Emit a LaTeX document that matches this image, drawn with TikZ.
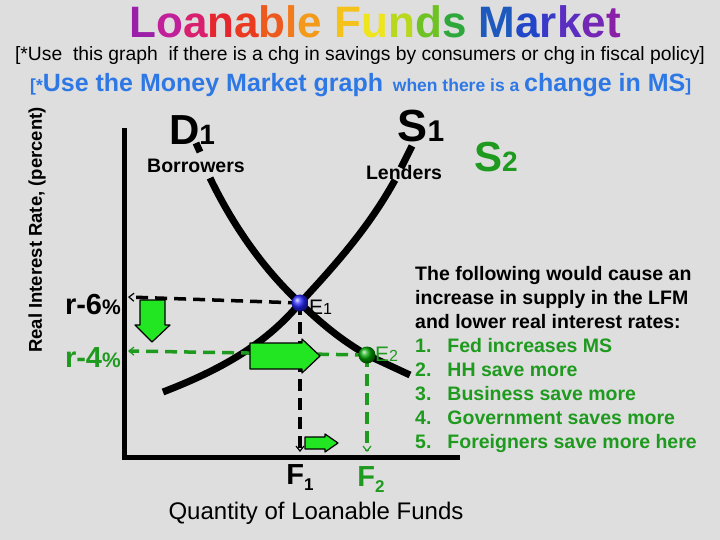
\documentclass[tikz,border=0pt]{standalone}
\usepackage{fontspec}
\setmainfont{Liberation Sans}
\usetikzlibrary{arrows.meta}
\definecolor{bg}{HTML}{DEDEDE}
\definecolor{gr}{HTML}{1E9A1E}
\definecolor{lg}{HTML}{22E622}
\definecolor{bl}{HTML}{2E78E6}
\newcommand{\cl}[2]{\textcolor[HTML]{#1}{#2}}
\begin{document}
\begin{tikzpicture}[x=1pt,y=-1pt,
  curve/.style={line width=7pt},
  axis/.style={line width=5pt},
  dashblack/.style={line width=3.5pt,dash pattern=on 12pt off 7pt,-{Straight Barb[length=5pt,width=8pt,line width=1.2pt]}},
  dashgreen/.style={dashblack,draw=gr},
  fatarrow/.style={draw=black,fill=lg,line width=1.2pt,line join=round},
  lbl/.style={inner sep=0pt}]
\fill[bg] (0,0) rectangle (720,540);
\useasboundingbox (0,0) rectangle (720,540);
% title
\node[inner sep=0pt,font=\fontsize{44}{46}\selectfont\bfseries] (title) at (375,22) {\cl{9B1FA8}{L}\cl{C21F9B}{o}\cl{D8206E}{a}\cl{E6262E}{n}\cl{EA3A20}{a}\cl{EC5A1E}{b}\cl{F07A1C}{l}\cl{F49A1A}{e}\ \cl{F4C21A}{F}\cl{EFE51C}{u}\cl{B8D81E}{n}\cl{6EC224}{d}\cl{2EA83A}{s}\ \cl{1E5ABE}{M}\cl{2246C8}{a}\cl{3A3AC8}{r}\cl{5A2EC0}{k}\cl{7426B4}{e}\cl{8A20A8}{t}};
\node[inner sep=0pt,font=\fontsize{19.3}{20}\selectfont] (sub1) at (360,56) {[*Use\ \ this graph\ \ if there is a chg in savings by consumers or chg in fiscal policy]};
\node[inner sep=0pt,text=bl,font=\bfseries\fontsize{17.5}{20}\selectfont,anchor=base west] (sub2) at (30,92) {[*{\fontsize{25}{26}\selectfont Use the Money Market graph} \ when there is a {\fontsize{25}{26}\selectfont change in MS}]};
% y label
\node[rotate=90,inner sep=0pt,font=\bfseries\fontsize{18.5}{20}\selectfont] (ylab) at (37,230) {Real Interest Rate, (percent)};
% axes
\coordinate (ytop) at (124,128);
\coordinate (orig) at (124,457);
\coordinate (xend) at (460,457);
\draw[axis] (ytop) -- (orig) -- (xend);
% curves
\coordinate (E1) at (300,303);
\coordinate (E2) at (367,355);
\draw[curve] (196,143) -- (200,152);
\draw[curve] (210,178) .. controls (240,240) and (275,280) .. (E1) .. controls (330,332) and (350,345) .. (E2) -- (410,375);
\draw[curve] (163,392) .. controls (220,370) and (265,345) .. (E1) .. controls (340,260) and (370,225) .. (395,180);
\draw[curve] (401,168) -- (412,146);
% dashed lines
\coordinate (y6) at (128,297);
\coordinate (y4) at (128,351);
\coordinate (f1) at (300,452);
\coordinate (f2) at (367,452);
\draw[dashblack] (E1) -- (y6);
\draw[dashblack] (E1) -- (f1);
\draw[dashgreen] (E2) -- (y4);
\draw[dashgreen] (E2) -- (f2);
% fat arrows
\draw[fatarrow] (140,300) -- (165,300) -- (165,325) -- (170,325) -- (152,342) -- (135,325) -- (140,325) -- cycle;
\draw[fatarrow] (250,343) -- (302,343) -- (302,339) -- (320,356) -- (302,373) -- (302,369) -- (250,369) -- cycle;
\draw[fatarrow] (305,437) -- (325,437) -- (325,434) -- (338,443) -- (325,452) -- (325,449) -- (305,449) -- cycle;
% points
\shade[ball color=blue!85] (E1) circle (8.5);
\shade[ball color=green!65!black] (E2) circle (8.5);
\node[inner sep=0pt,font=\fontsize{21}{22}\selectfont,anchor=west] (e1l) at (309,307) {E{\fontsize{16}{17}\selectfont 1}};
\node[inner sep=0pt,font=\fontsize{21}{22}\selectfont,text=gr,anchor=west] (e2l) at (375,354) {E{\fontsize{16}{17}\selectfont 2}};
% labels
\node[lbl,font=\bfseries\fontsize{29}{30}\selectfont,anchor=east] (r6) at (121,305) {r-6{\fontsize{21}{22}\selectfont\%}};
\node[lbl,font=\bfseries\fontsize{29}{30}\selectfont,text=gr,anchor=east] (r4) at (121,358) {r-4{\fontsize{21}{22}\selectfont\%}};
\node[lbl,font=\bfseries\fontsize{42}{44}\selectfont] (D1) at (192,130) {D{\fontsize{28}{30}\selectfont 1}};
\node[lbl,font=\bfseries\fontsize{19.5}{21}\selectfont] (bor) at (196,166) {Borrowers};
\node[lbl,font=\bfseries\fontsize{45}{46}\selectfont] (S1) at (421,126) {S{\fontsize{30}{32}\selectfont 1}};
\node[lbl,font=\bfseries\fontsize{19.5}{21}\selectfont] (len) at (404,173) {Lenders};
\node[lbl,font=\bfseries\fontsize{42}{44}\selectfont,text=gr] (S2) at (496,157) {S{\fontsize{28}{30}\selectfont 2}};
\node[lbl,font=\bfseries\fontsize{29}{30}\selectfont,anchor=base] (F1) at (300,484) {F{\fontsize{17}{18}\selectfont\raisebox{-6pt}{1}}};
\node[lbl,font=\bfseries\fontsize{29}{30}\selectfont,text=gr,anchor=base] (F2) at (371,486) {F{\fontsize{17}{18}\selectfont\raisebox{-6pt}{2}}};
\node[inner sep=0pt,font=\fontsize{24}{26}\selectfont,anchor=base] (xlab) at (316,519) {Quantity of Loanable Funds};
\node[inner sep=0pt,anchor=north west,align=left,font=\bfseries\fontsize{19.5}{24}\selectfont] (txt) at (415,266) {The following would cause an\\increase in supply in the LFM\\and lower real interest rates:\\
\textcolor{gr}{1.\hspace{16pt}Fed increases MS}\\
\textcolor{gr}{2.\hspace{16pt}HH save more}\\
\textcolor{gr}{3.\hspace{16pt}Business save more}\\
\textcolor{gr}{4.\hspace{16pt}Government saves more}\\
\textcolor{gr}{5.\hspace{16pt}Foreigners save more here}};
\end{tikzpicture}
\end{document}
